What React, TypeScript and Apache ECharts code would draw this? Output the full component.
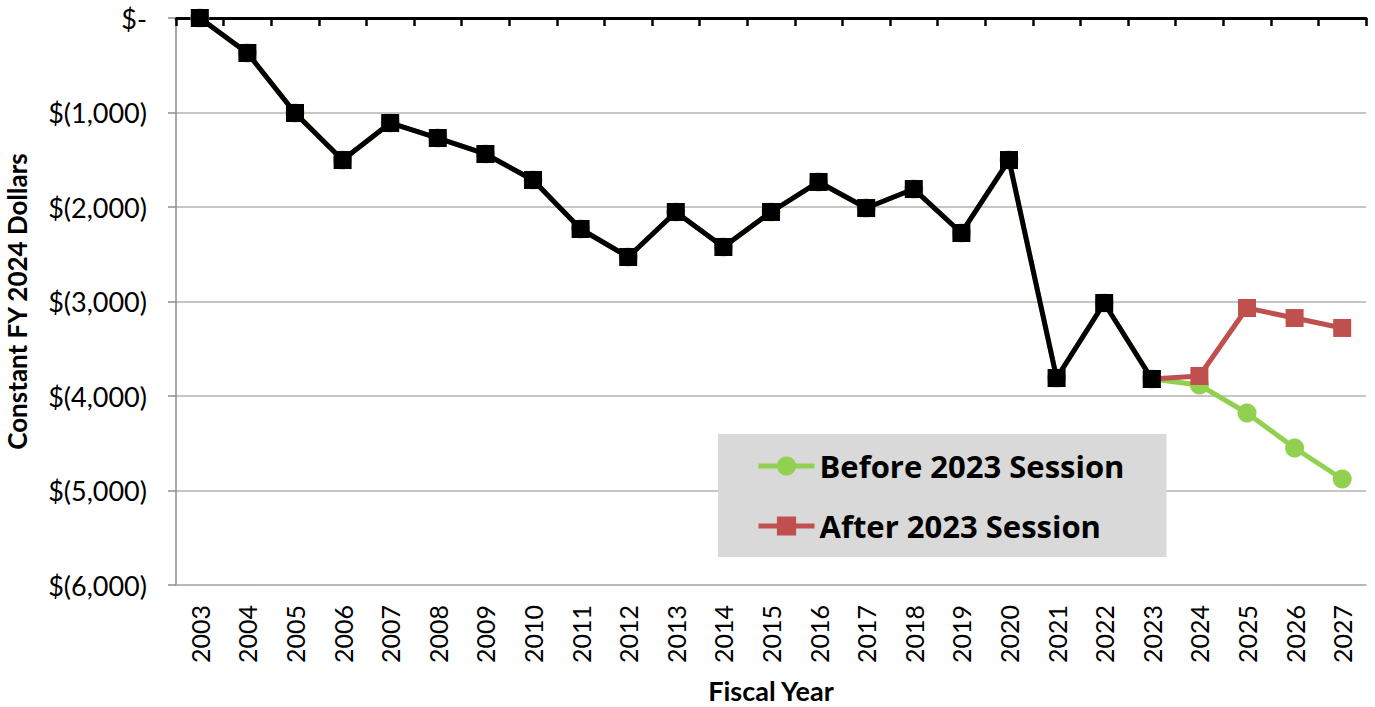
import React, { useEffect, useRef } from "react";
import * as echarts from "echarts";

const years = ["2003","2004","2005","2006","2007","2008","2009","2010","2011","2012","2013","2014","2015","2016","2017","2018","2019","2020","2021","2022","2023","2024","2025","2026","2027"];
const historical = [0,-370,-1005,-1503,-1111,-1270,-1439,-1714,-2233,-2529,-2053,-2423,-2053,-1735,-2011,-1810,-2275,-1503,-3810,-3016,-3820];
const beforeSession = [0,-370,-1005,-1503,-1111,-1270,-1439,-1714,-2233,-2529,-2053,-2423,-2053,-1735,-2011,-1810,-2275,-1503,-3810,-3016,-3820,-3884,-4180,-4550,-4878];
const afterSession = [null,null,null,null,null,null,null,null,null,null,null,null,null,null,null,null,null,null,null,null,-3820,-3788,-3069,-3175,-3280];
const yTicks = [0,-1000,-2000,-3000,-4000,-5000,-6000];

const FONT = "Lato";
const WIDE = "Open Sans";

function fmt(v: number) {
  if (v === 0) return "$-";
  const s = Math.abs(v).toLocaleString("en-US");
  return v < 0 ? `$(${s})` : `$${s}`;
}

export default function App() {
  const ref = useRef<HTMLDivElement>(null);
  useEffect(() => {
    const chart = echarts.init(ref.current!, null, { renderer: "svg" });
    chart.setOption({
      animation: false,
      textStyle: { fontFamily: FONT },
      grid: { left: 176, right: 9, top: 18, bottom: 122, containLabel: false, outerBoundsMode: "none" },
      legend: {
        data: ["Before 2023 Session", "After 2023 Session"],
        orient: "vertical",
        left: 718,
        top: 434,
        backgroundColor: "#d9d9d9",
        padding: [15, 42, 14, 38],
        itemWidth: 56,
        itemHeight: 24,
        itemGap: 26,
        lineStyle: { width: 5 },
        textStyle: { fontFamily: WIDE, fontSize: 31, lineHeight: 34, fontWeight: "bold", color: "#000" },
      },
      xAxis: [
        {
          type: "category",
          data: years,
          position: "top",
          boundaryGap: true,
          axisLine: { show: true, lineStyle: { color: "#000", width: 3 } },
          axisTick: { show: true, inside: true, length: 8, lineStyle: { color: "#000", width: 2.5 } },
          axisLabel: { show: false },
          splitLine: { show: false },
        },
        {
          type: "category",
          data: years,
          position: "bottom",
          boundaryGap: true,
          name: "Fiscal Year",
          nameLocation: "middle",
          nameGap: 92,
          nameTextStyle: { fontFamily: FONT, fontSize: 27, fontWeight: "bold", color: "#000" },
          axisLine: { show: true, lineStyle: { color: "#b3b3b3", width: 1.5 } },
          axisTick: { show: false },
          axisLabel: { rotate: 90, margin: 20, fontSize: 25, color: "#000", fontFamily: FONT },
          splitLine: { show: false },
        },
      ],
      yAxis: {
        type: "value",
        min: -6000,
        max: 0,
        interval: 1000,
        name: "Constant FY 2024 Dollars",
        nameLocation: "middle",
        nameRotate: 90,
        nameGap: 146,
        nameTextStyle: { fontFamily: FONT, fontSize: 26, fontWeight: "bold", color: "#000" },
        axisLine: { show: true, lineStyle: { color: "#8c8c8c", width: 1.5 } },
        axisTick: { show: true, length: 8, lineStyle: { color: "#8c8c8c", width: 1.5 } },
        axisLabel: {
          margin: 29,
          fontSize: 27,
          color: "#000",
          fontFamily: FONT,
          formatter: (v: number) => fmt(v),
        },
        splitLine: { show: true, lineStyle: { color: "#b3b3b3", width: 1.5 } },
      },
      series: [
        {
          name: "Before 2023 Session",
          type: "line",
          xAxisIndex: 1,
          data: beforeSession,
          symbol: "circle",
          symbolSize: 19,
          itemStyle: { color: "#92d050" },
          lineStyle: { color: "#92d050", width: 5 },
          z: 2,
        },
        {
          name: "After 2023 Session",
          type: "line",
          xAxisIndex: 1,
          data: afterSession,
          symbol: "rect",
          symbolSize: 18,
          itemStyle: { color: "#c0504d" },
          lineStyle: { color: "#c0504d", width: 5 },
          z: 3,
        },
        {
          name: "Historical",
          type: "line",
          xAxisIndex: 1,
          data: historical,
          symbol: "rect",
          symbolSize: 18,
          itemStyle: { color: "#000" },
          lineStyle: { color: "#000", width: 5 },
          z: 4,
        },
      ],
    });
    return () => chart.dispose();
  }, []);
  return <div ref={ref} style={{ width: 1375, height: 707, position: "absolute", left: 0, top: 0 }} />;
}
